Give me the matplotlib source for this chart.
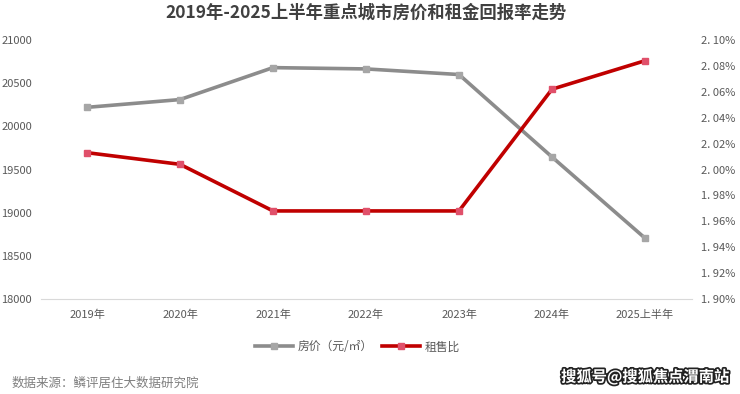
import matplotlib.pyplot as plt
import matplotlib.patheffects as pe
from matplotlib.ticker import FuncFormatter

plt.rcParams['font.family'] = ['Noto Sans CJK SC', 'DejaVu Sans']

years = ['2019年', '2020年', '2021年', '2022年', '2023年', '2024年', '2025上半年']
price = [20220, 20310, 20680, 20665, 20600, 19645, 18705]
rent_ratio = [2.013, 2.004, 1.968, 1.968, 1.968, 2.062, 2.084]

fig = plt.figure(figsize=(7.4, 3.94), dpi=100)
ax = fig.add_axes([40.5 / 740, 1 - 299 / 394, 651 / 740, 259 / 394])
ax2 = ax.twinx()

x = range(len(years))
l1, = ax.plot(x, price, color='#8c8c8c', lw=2.6, marker='s', ms=5,
              mfc='#a6a6a6', mec='#a6a6a6', label='房价（元/㎡）')
l2, = ax2.plot(x, rent_ratio, color='#c00000', lw=2.6, marker='s', ms=5,
               mfc='#e0506a', mec='#e0506a', label='租售比')

ax.set_xlim(-0.5, len(years) - 0.5)
ax.set_ylim(18000, 21000)
ax.set_yticks(range(18000, 21001, 500))
ax2.set_ylim(1.90, 2.10)
ax2.set_yticks([1.90 + 0.02 * i for i in range(11)])
ax2.yaxis.set_major_formatter(FuncFormatter(lambda v, p: f'{v:.2f}%'.replace('.', '. ')))
ax.set_xticks(list(x))
ax.set_xticklabels(years)

for a in (ax, ax2):
    for s in a.spines.values():
        s.set_visible(False)
    a.tick_params(length=0, colors='#595959', labelsize=8)
ax.spines['bottom'].set_visible(True)
ax.spines['bottom'].set_color('#d9d9d9')
ax.tick_params(axis='y', pad=6)
ax.tick_params(axis='x', pad=8)
ax2.tick_params(axis='y', pad=7)

fig.text(0.495, 1 - 13 / 394, '2019年-2025上半年重点城市房价和租金回报率走势',
         ha='center', va='center', fontsize=12.5, fontweight='bold', color='#404040')

fig.legend(handles=[l1, l2], loc='center', bbox_to_anchor=(0.483, 1 - 347 / 394),
           ncol=2, frameon=False, fontsize=8.5, labelcolor='#595959',
           handlelength=3.2, columnspacing=0.8, handletextpad=0.4)

fig.text(12 / 740, 1 - 383 / 394, '数据来源：鳞评居住大数据研究院', ha='left', va='center',
         fontsize=9, color='#7f7f7f')
fig.text(729 / 740, 1 - 377 / 394, '搜狐号@搜狐焦点渭南站', ha='right', va='center',
         fontsize=11, fontweight='bold', color='white',
         path_effects=[pe.withStroke(linewidth=2.5, foreground='#222222')])

fig.savefig('out.png', dpi=100)
